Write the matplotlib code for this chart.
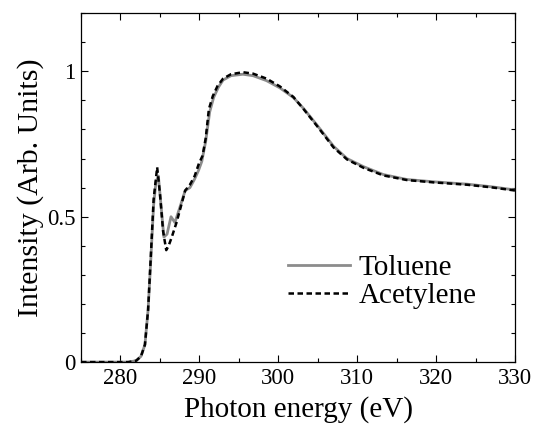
import matplotlib
matplotlib.use("Agg")
import matplotlib.pyplot as plt
from matplotlib.ticker import MultipleLocator

# === Style ===
plt.rcParams['font.family'] = ['Liberation Serif', 'DejaVu Serif']
plt.rcParams['xtick.direction'] = 'in'
plt.rcParams['ytick.direction'] = 'in'
plt.rcParams['xtick.top'] = True
plt.rcParams['ytick.right'] = True

# === Data ===
toluene_x = [275, 277, 279, 281, 282, 282.6, 283.1, 283.5, 283.8, 284.2, 284.5,
             284.8, 285.1, 285.5, 285.9, 286.4, 286.9, 287.5, 288.2, 288.8,
             289.4, 289.9, 290.3, 290.8, 291.3, 291.8, 292.4, 293.0, 294.0,
             295.5, 296.8, 298.5, 300.2, 301.9, 303.2, 304.9, 307.0, 308.7,
             310.8, 313.3, 316.3, 319.7, 323.9, 327.0, 330.0]
toluene_y = [0.0, 0.0, 0.0, 0.0, 0.005, 0.02, 0.06, 0.18, 0.33, 0.54, 0.62,
             0.64, 0.55, 0.43, 0.44, 0.50, 0.48, 0.53, 0.59, 0.60,
             0.63, 0.66, 0.69, 0.76, 0.86, 0.91, 0.945, 0.97, 0.985,
             0.99, 0.985, 0.968, 0.943, 0.91, 0.872, 0.815, 0.742, 0.70,
             0.672, 0.645, 0.628, 0.62, 0.612, 0.603, 0.592]

acetylene_x = [275, 277, 279, 281, 282, 282.6, 283.1, 283.5, 283.8, 284.2,
               284.65, 285.0, 285.4, 285.8, 286.1, 286.5, 287.1, 287.6, 288.2,
               288.8, 289.4, 289.9, 290.4, 290.8, 291.2, 291.7, 292.3, 293.0,
               294.0, 295.5, 296.8, 298.5, 300.2, 301.9, 303.2, 304.9, 307.0,
               308.7, 310.8, 313.3, 316.3, 319.7, 323.9, 327.0, 330.0]
acetylene_y = [0.0, 0.0, 0.0, 0.0, 0.005, 0.02, 0.06, 0.18, 0.34, 0.56,
               0.67, 0.58, 0.45, 0.385, 0.40, 0.43, 0.48, 0.53, 0.59,
               0.61, 0.64, 0.68, 0.71, 0.77, 0.87, 0.915, 0.95, 0.975,
               0.99, 0.997, 0.992, 0.975, 0.948, 0.912, 0.87, 0.812, 0.738,
               0.697, 0.668, 0.642, 0.626, 0.618, 0.61, 0.601, 0.59]

# === Plotting ===
fig = plt.figure(figsize=(5.4, 4.25), dpi=100)
ax = fig.add_axes([0.15, 0.148, 0.804, 0.821])

ax.plot(toluene_x, toluene_y, '-', color='#8c8c8c', lw=2.0, label='Toluene')
ax.plot(acetylene_x, acetylene_y, '--', color='black', lw=1.8,
        dashes=(2.2, 1.4), label='Acetylene')

ax.set_xlim(275, 330)
ax.set_ylim(0, 1.2)
ax.set_xticks([280, 290, 300, 310, 320, 330])
ax.xaxis.set_minor_locator(MultipleLocator(5))
ax.set_yticks([0, 0.5, 1])
ax.set_yticklabels(['0', '0.5', '1'])
ax.yaxis.set_minor_locator(MultipleLocator(0.1))
ax.tick_params(which='major', length=5, width=0.8, labelsize=16.5, pad=4)
ax.tick_params(which='minor', length=3, width=0.8)
for s in ax.spines.values():
    s.set_linewidth(0.9)

ax.set_xlabel('Photon energy (eV)', fontsize=21, labelpad=5)
ax.set_ylabel('Intensity (Arb. Units)', fontsize=21.5, labelpad=2)

ax.legend(loc='lower right', bbox_to_anchor=(0.944, 0.11), frameon=False,
          fontsize=21, handlelength=2.1, handletextpad=0.3, labelspacing=0.05,
          borderpad=0)

plt.savefig('out.png', dpi=100)
